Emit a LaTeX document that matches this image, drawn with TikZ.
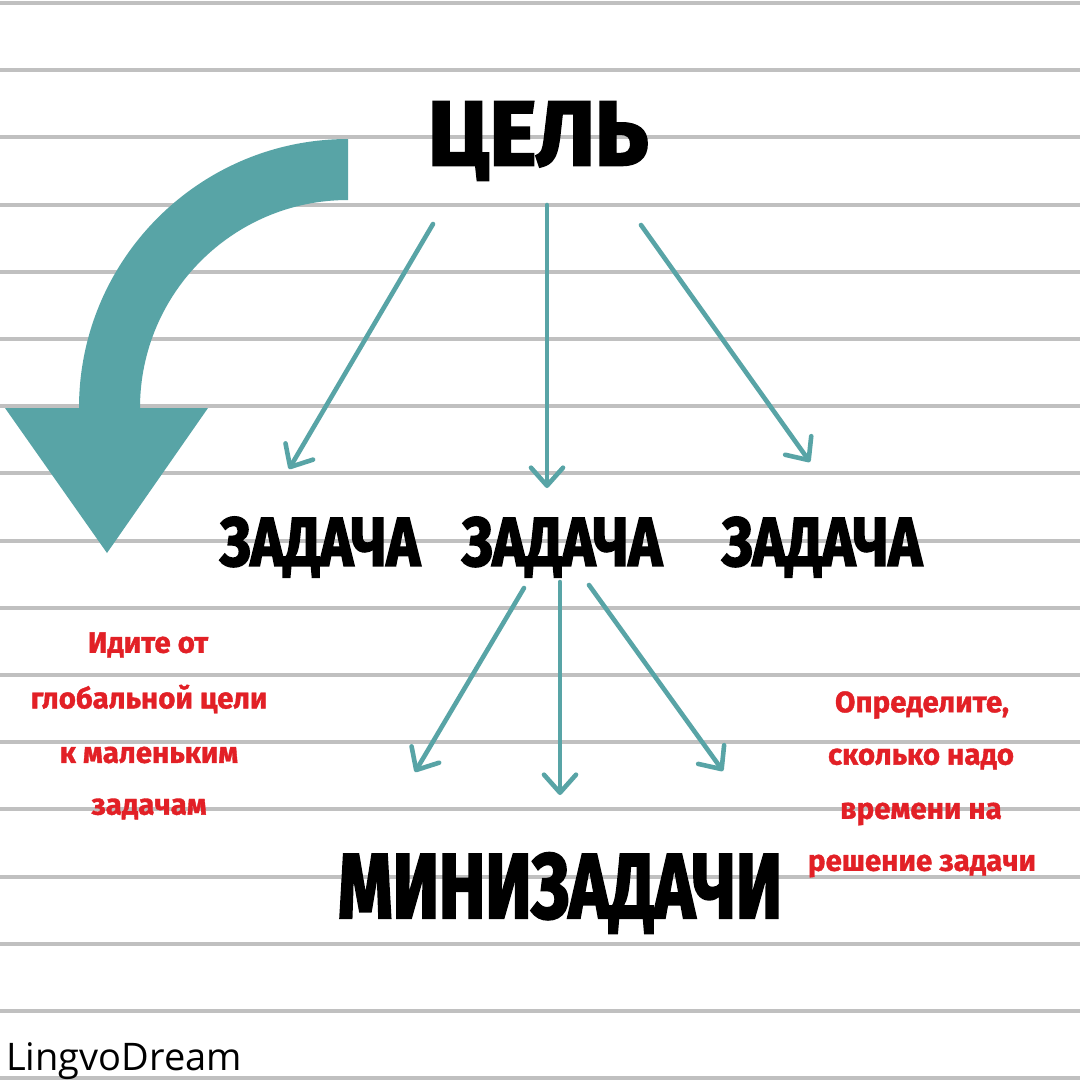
\documentclass[tikz,border=0pt]{standalone}
\usepackage{fontspec}
\usepackage{graphicx}
\usetikzlibrary{arrows.meta}
\newfontfamily\brushfont{Fira Sans}[BoldFeatures={FakeBold=3}]
\newfontfamily\notefont{Fira Sans}[BoldFeatures={FakeBold=1.2}]
\newfontfamily\logofont{Open Sans}
\definecolor{teal1}{RGB}{88,164,166}
\definecolor{rulegray}{RGB}{192,192,192}
\definecolor{notered}{RGB}{226,32,38}
\tikzset{
  big/.style={inner sep=0pt, font=\brushfont\bfseries},
  note/.style={inner sep=0pt, text=notered, anchor=center,
    font=\notefont\bfseries\fontsize{29.5}{29.5}\selectfont},
  conn/.style={draw=teal1, line width=4.6pt, line cap=round,
    -{Straight Barb[length=18pt,width=32pt,line width=4.6pt,round]}},
  ruleline/.style={draw=rulegray, line width=4pt},
}
\begin{document}
\begin{tikzpicture}[x=1pt,y=-1pt]
\useasboundingbox (0,0) rectangle (1080,1080);
\fill[white] (0,0) rectangle (1080,1080);
% ruled lines
\foreach \i in {0,...,16}{
  \draw[ruleline] (0,{3+67.2*\i}) -- (1080,{3+67.2*\i});
}
% big curved arrow
\fill[teal1] (348,139) arc[start angle=270,end angle=180,radius=269]
  -- (140,408) arc[start angle=180,end angle=270,radius=208] -- cycle;
\fill[teal1] (5,408) -- (208,408) -- (107,553) -- cycle;
% main words
\node[big] (goal) at (538,141) {\resizebox*{220pt}{78pt}{ЦЕЛЬ}};
\node[big] (task1) at (320,547) {\resizebox*{200pt}{60pt}{ЗАДАЧА}};
\node[big] (task2) at (562,547) {\resizebox*{200pt}{60pt}{ЗАДАЧА}};
\node[big] (task3) at (822,547) {\resizebox*{200pt}{60pt}{ЗАДАЧА}};
\node[big] (mini) at (560,893) {\resizebox*{444pt}{80pt}{МИНИЗАДАЧИ}};
% connector endpoints
\coordinate (g1) at (433,224);
\coordinate (g2) at (547,205);
\coordinate (g3) at (641,225);
\coordinate (t1) at (289,469);
\coordinate (t2) at (547,488);
\coordinate (t3) at (810,462);
\coordinate (s1) at (524,588);
\coordinate (s2) at (560,582);
\coordinate (s3) at (589,585);
\coordinate (m1) at (415,772);
\coordinate (m2) at (560,795);
\coordinate (m3) at (723,771);
\draw[conn] (g1) -- (t1);
\draw[conn] (g2) -- (t2);
\draw[conn] (g3) -- (t3);
\draw[conn] (s1) -- (m1);
\draw[conn] (s2) -- (m2);
\draw[conn] (s3) -- (m3);
% notes
\node[note] (l1) at (148,645) {Идите от};
\node[note] (l2) at (149,699) {глобальной цели};
\node[note] (l3) at (149,755) {к маленьким};
\node[note] (l4) at (149,809) {задачам};
\node[note] (r1) at (922,705) {Определите,};
\node[note] (r2) at (921,759) {сколько надо};
\node[note] (r3) at (921,814) {времени на};
\node[note] (r4) at (922,866) {решение задачи};
% logo
\node[anchor=base west, inner sep=0pt, font=\logofont\fontsize{38}{38}\selectfont] (logo) at (6,1070) {LingvoDream};
\end{tikzpicture}
\end{document}
